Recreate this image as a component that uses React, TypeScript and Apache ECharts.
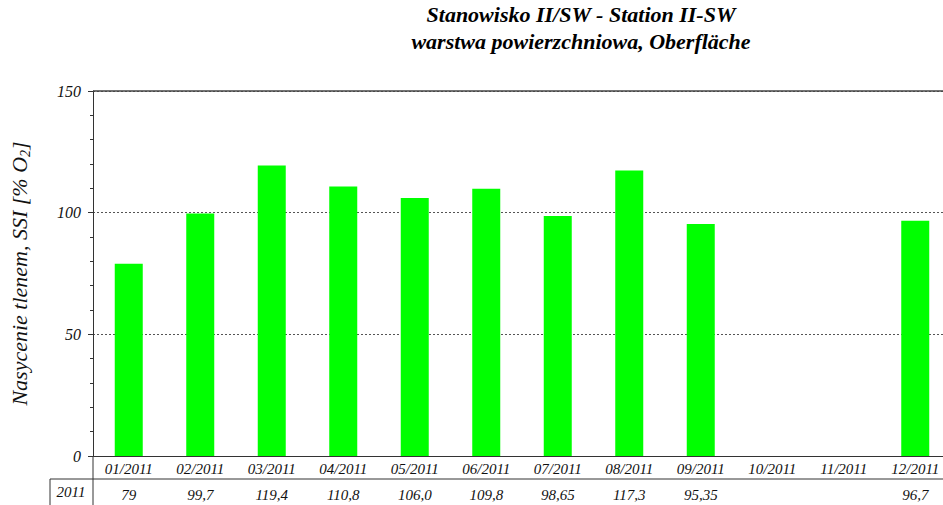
import React, { useEffect, useRef } from "react";
import * as echarts from "echarts";

const categories = ["01/2011","02/2011","03/2011","04/2011","05/2011","06/2011","07/2011","08/2011","09/2011","10/2011","11/2011","12/2011"];
const values: (number | null)[] = [79, 99.7, 119.4, 110.8, 106.0, 109.8, 98.65, 117.3, 95.35, null, null, 96.7];
const tableLabels = ["79","99,7","119,4","110,8","106,0","109,8","98,65","117,3","95,35","","","96,7"];
const rowLabel = "2011";
const yTicks = { min: 0, max: 150, interval: 50 };

const serif = "'Liberation Serif', 'Times New Roman', serif";

export default function App() {
  const ref = useRef<HTMLDivElement>(null);
  useEffect(() => {
    if (!ref.current) return;
    const chart = echarts.init(ref.current, null, { renderer: "svg" });
    chart.setOption({
      animation: false,
      backgroundColor: "#ffffff",
      textStyle: { fontFamily: serif },
      title: {
        text: "Stanowisko II/SW - Station II-SW\nwarstwa powierzchniowa, Oberfläche",
        left: 576,
        top: 0,
        padding: [1, 5, 5, 5],
        textAlign: "center",
        textStyle: {
          fontFamily: serif,
          fontStyle: "italic",
          fontWeight: "bold",
          fontSize: 22,
          lineHeight: 27,
          color: "#000",
        },
      },
      grid: {
        left: 93,
        top: 91,
        width: 858,
        height: 365,
        outerBoundsMode: "none",
        containLabel: false,
        show: false,
      },
      xAxis: {
        type: "category",
        data: categories,
        axisLine: { lineStyle: { color: "#333", width: 1 } },
        axisTick: { show: false },
        axisLabel: {
          interval: 0,
          margin: 3,
          formatter: (v: string, i: number) => `{c|${v}}\n{v|${tableLabels[i]}}`,
          rich: {
            c: { fontFamily: serif, fontStyle: "italic", fontSize: 15, color: "#111", height: 20, lineHeight: 20 },
            v: { fontFamily: serif, fontStyle: "italic", fontSize: 15, color: "#111", height: 28, lineHeight: 28, padding: [4, 0, 0, 0] },
          },
        },
      },
      yAxis: {
        type: "value",
        min: yTicks.min,
        max: yTicks.max,
        interval: yTicks.interval,
        name: "{n|Nasycenie tlenem, SSI [% O}{s|2}{n|]}",
        nameLocation: "middle",
        nameRotate: 90,
        nameGap: 61,
        nameTextStyle: {
          fontFamily: serif,
          fontStyle: "italic",
          fontSize: 22,
          color: "#111",
          rich: {
            n: { fontFamily: serif, fontStyle: "italic", fontSize: 22, color: "#111", lineHeight: 26, verticalAlign: "middle" },
            s: { fontFamily: serif, fontStyle: "italic", fontSize: 14, color: "#111", lineHeight: 26, verticalAlign: "middle", padding: [12, 0, 0, 0] },
          },
        },
        axisLine: { show: true, lineStyle: { color: "#333", width: 1 } },
        axisTick: { show: true, length: 5, lineStyle: { color: "#333" } },
        minorTick: { show: true, splitNumber: 5, length: 3, lineStyle: { color: "#333" } },
        axisLabel: {
          margin: 12,
          fontFamily: serif,
          fontStyle: "italic",
          fontSize: 16,
          color: "#111",
        },
        splitLine: { show: true, lineStyle: { color: "#555", type: [2, 2], width: 1 } },
      },
      graphic: [
        { type: "line", z: 100, shape: { x1: 93, y1: 91, x2: 943, y2: 91 }, style: { stroke: "#444", lineWidth: 1.5 } },
        { type: "line", shape: { x1: 50, y1: 479, x2: 943, y2: 479 }, style: { stroke: "#333", lineWidth: 1 } },
        { type: "line", shape: { x1: 93, y1: 456, x2: 93, y2: 505 }, style: { stroke: "#333", lineWidth: 1 } },
        { type: "line", shape: { x1: 50, y1: 479, x2: 50, y2: 505 }, style: { stroke: "#333", lineWidth: 1 } },
        {
          type: "text",
          x: 71,
          y: 492,
          style: {
            text: rowLabel,
            fontFamily: serif,
            fontStyle: "italic",
            fontSize: 15,
            fill: "#111",
            align: "center",
            verticalAlign: "middle",
          },
        },
      ],
      series: [
        {
          type: "bar",
          data: values,
          barWidth: 28,
          itemStyle: { color: "#00ff00" },
        },
      ],
    });
    return () => chart.dispose();
  }, []);
  return <div ref={ref} style={{ position: "absolute", left: 0, top: 0, width: 943, height: 505 }} />;
}
